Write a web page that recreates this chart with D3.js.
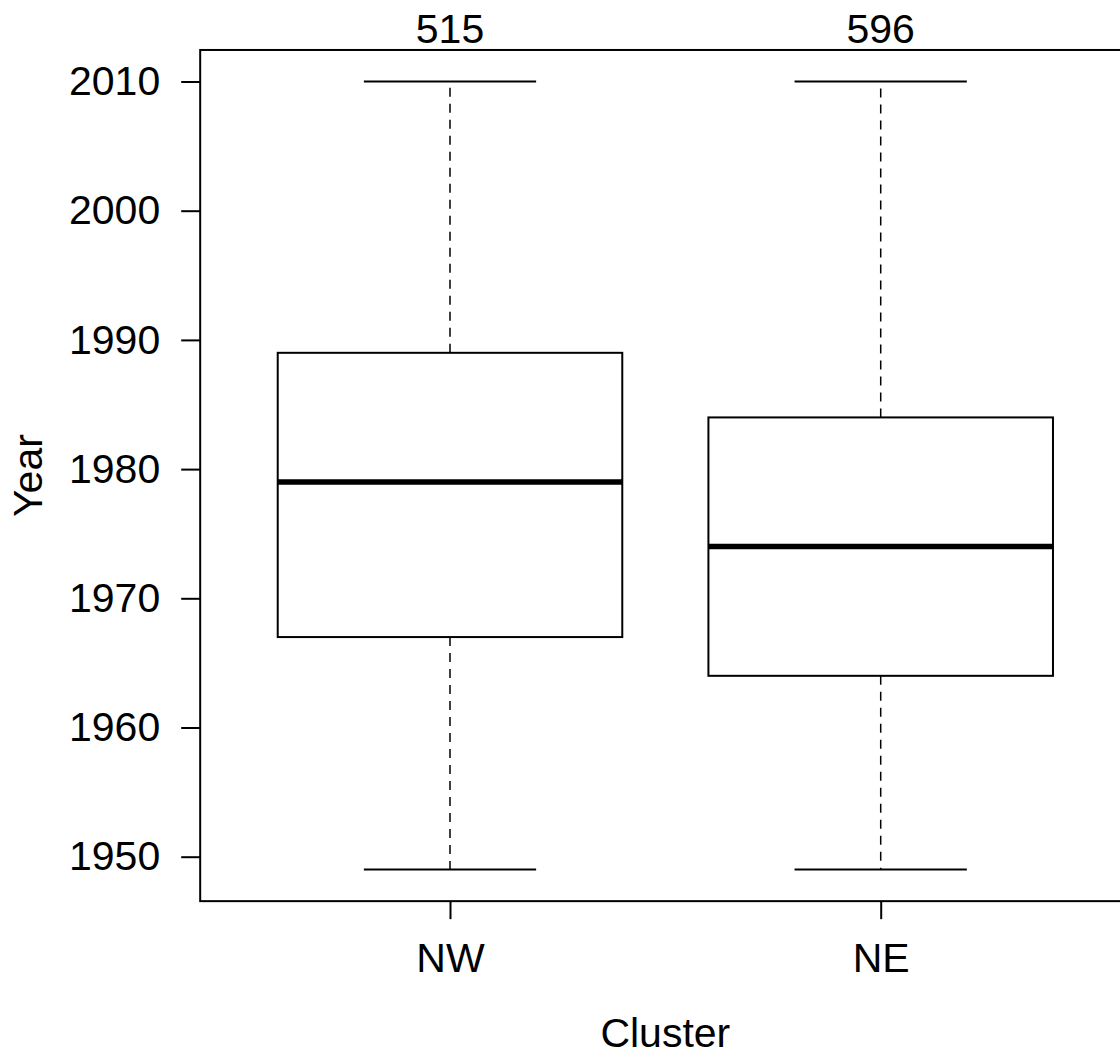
<!DOCTYPE html>
<html>
<head>
<meta charset="utf-8">
<script src="https://cdn.jsdelivr.net/npm/d3@7"></script>
<style>
  html, body { margin: 0; padding: 0; background: #fff; }
  text { font-family: "Liberation Sans", Arial, sans-serif; fill: #000; }
</style>
</head>
<body>
<svg id="chart" width="1120" height="1057"></svg>
<script>
// data
const clusters = ['NW', 'NE'];
const counts = [515, 596];
const lowerWhisker = [1949, 1949];
const lowerHinge = [1967, 1964];
const medians = [1979, 1974];
const upperHinge = [1989, 1984];
const upperWhisker = [2010, 2010];
const yTicks = [1950, 1960, 1970, 1980, 1990, 2000, 2010];

const svg = d3.select('#chart');
const fontSize = 41;

// R-style: groups at 1..n, limits padded by 4%
const x = d3.scaleLinear().domain([1, 2]).range([450, 880.7]);
const y = d3.scaleLinear().domain([1950, 2010]).range([856.7, 81.5]);

const xLo = 0.42, xHi = 2.58;
const yLo = 1946.56, yHi = 2012.44;
const boxHalf = 0.4, capHalf = 0.2;

const boxes = clusters.map((c, i) => ({
  name: c, n: counts[i], i: i + 1,
  lw: lowerWhisker[i], q1: lowerHinge[i], med: medians[i],
  q3: upperHinge[i], uw: upperWhisker[i]
}));

const g = svg.append('g');

// dashed whiskers
g.selectAll('line.whisk-up').data(boxes).enter().append('line')
  .attr('x1', d => x(d.i)).attr('x2', d => x(d.i))
  .attr('y1', d => y(d.q3)).attr('y2', d => y(d.uw))
  .attr('stroke', '#000').attr('stroke-width', 1.5).attr('stroke-dasharray', '9,7');
g.selectAll('line.whisk-lo').data(boxes).enter().append('line')
  .attr('x1', d => x(d.i)).attr('x2', d => x(d.i))
  .attr('y1', d => y(d.q1)).attr('y2', d => y(d.lw))
  .attr('stroke', '#000').attr('stroke-width', 1.5).attr('stroke-dasharray', '9,7');

// caps
['uw', 'lw'].forEach(k => {
  g.selectAll('line.cap-' + k).data(boxes).enter().append('line')
    .attr('x1', d => x(d.i - capHalf)).attr('x2', d => x(d.i + capHalf))
    .attr('y1', d => y(d[k])).attr('y2', d => y(d[k]))
    .attr('stroke', '#000').attr('stroke-width', 2);
});

// boxes
g.selectAll('rect.box').data(boxes).enter().append('rect')
  .attr('x', d => x(d.i - boxHalf))
  .attr('width', d => x(d.i + boxHalf) - x(d.i - boxHalf))
  .attr('y', d => y(d.q3))
  .attr('height', d => y(d.q1) - y(d.q3))
  .attr('fill', 'none').attr('stroke', '#000').attr('stroke-width', 2);

// medians
g.selectAll('line.med').data(boxes).enter().append('line')
  .attr('x1', d => x(d.i - boxHalf)).attr('x2', d => x(d.i + boxHalf))
  .attr('y1', d => y(d.med)).attr('y2', d => y(d.med))
  .attr('stroke', '#000').attr('stroke-width', 5.5);

// frame (right side runs off the page)
svg.append('rect')
  .attr('x', x(xLo)).attr('y', y(yHi))
  .attr('width', x(xHi) - x(xLo)).attr('height', y(yLo) - y(yHi))
  .attr('fill', 'none').attr('stroke', '#000').attr('stroke-width', 2);

// y axis
const yAxis = svg.append('g')
  .attr('transform', `translate(${x(xLo)},0)`)
  .call(d3.axisLeft(y).tickValues(yTicks).tickFormat(d3.format('d')).tickSize(19).tickPadding(21));
yAxis.select('.domain').remove();
yAxis.selectAll('line').attr('stroke-width', 2);
yAxis.selectAll('text').attr('font-size', fontSize).attr('font-family', null);

// x axis
const xAxis = svg.append('g')
  .attr('transform', `translate(0,${y(yLo)})`)
  .call(d3.axisBottom(x).tickValues(boxes.map(d => d.i))
    .tickFormat(v => clusters[v - 1]).tickSize(18).tickPadding(24));
xAxis.select('.domain').remove();
xAxis.selectAll('line').attr('stroke-width', 2);
xAxis.selectAll('text').attr('font-size', fontSize).attr('font-family', null);

// counts above
svg.selectAll('text.count').data(boxes).enter().append('text')
  .attr('x', d => x(d.i)).attr('y', 43)
  .attr('text-anchor', 'middle').attr('font-size', fontSize)
  .text(d => d.n);

// axis titles
svg.append('text')
  .attr('x', (x(xLo) + x(xHi)) / 2).attr('y', 1047)
  .attr('text-anchor', 'middle').attr('font-size', fontSize)
  .text('Cluster');
svg.append('text')
  .attr('transform', `translate(41.5,${(y(yLo) + y(yHi)) / 2}) rotate(-90)`)
  .attr('text-anchor', 'middle').attr('font-size', fontSize)
  .text('Year');
</script>
</body>
</html>
